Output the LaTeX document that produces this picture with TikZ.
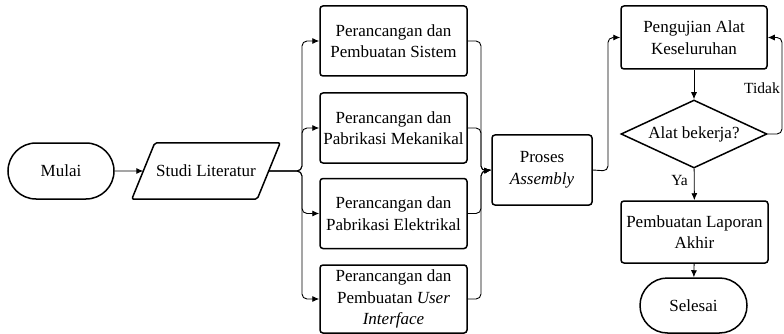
\documentclass[tikz,border=0pt]{standalone}
\usepackage{fontspec}
\setmainfont{Liberation Serif}
\usetikzlibrary{shapes.geometric,shapes.misc,arrows.meta,calc}
\begin{document}
\begin{tikzpicture}[x=1pt,y=-1pt,
  txt/.style={font=\fontsize{17}{21.5}\selectfont, align=center, inner sep=1pt},
  box/.style={txt, draw, line width=1.5pt, rounded corners=3pt, minimum width=147pt, minimum height=70pt},
  term/.style={txt, draw, line width=1.5pt, rounded rectangle, minimum width=108pt, minimum height=56pt},
  io/.style={txt, minimum width=125pt, minimum height=56pt},
  decision/.style={txt, draw, line width=1.5pt, diamond, aspect=2.15, minimum width=146pt, minimum height=68pt, inner sep=0pt},
  conn/.style={line width=0.9pt, rounded corners=5pt},
  arr/.style={conn, -{Latex[length=7pt,width=6pt]}},
  lbl/.style={font=\fontsize{15.5}{18}\selectfont, inner sep=1pt}
]
\useasboundingbox (0,0) rectangle (784,334);

\node[term] (mulai) at (61,171) {Mulai};
\node[io] (studi) at (206,171) {Studi Literatur};
\draw[line width=1.5pt, rounded corners=2pt]
  ($(studi.south west)+(-11.5,0)$) -- ($(studi.north west)+(11.5,0)$) --
  ($(studi.north east)+(11.5,0)$) -- ($(studi.south east)+(-11.5,0)$) -- cycle;

\node[box] (b1) at (393.5,41) {Perancangan dan\\Pembuatan Sistem};
\node[box] (b2) at (393.5,128) {Perancangan dan\\Pabrikasi Mekanikal};
\node[box] (b3) at (393.5,213.5) {Perancangan dan\\Pabrikasi Elektrikal};
\node[box, minimum height=68pt] (b4) at (393.5,299) {Perancangan dan\\Pembuatan \textit{User}\\\textit{Interface}};

\node[box, minimum width=100pt] (proses) at (542,170) {Proses\\\textit{Assembly}};

\node[box, minimum width=146pt, minimum height=63pt] (uji) at (694,37.5) {Pengujian Alat\\Keseluruhan};
\node[decision] (dia) at (694,134) {Alat bekerja?};
\node[box, minimum width=147pt, minimum height=62pt] (lap) at (694.5,232) {Pembuatan Laporan\\Akhir};
\node[term, minimum width=109pt, minimum height=55pt] (sel) at (693.5,305.5) {Selesai};

\coordinate (split) at (302,171);
\coordinate (merge) at (481,171);
\coordinate (up) at (608,171);
\coordinate (loop) at (782,134);

\draw[arr] (mulai) -- (studi);
\foreach \b in {b1,b2,b3,b4} {
  \draw[arr] (studi.east) -- (split) |- (\b.west);
  \draw[arr] (\b.east) -| (merge) -- (proses.west);
}
\draw[arr] (proses.east) -- (up) |- (uji.west);
\draw[arr] (uji) -- (dia);
\draw[arr] (dia.east) -- (loop) |- (uji.east);
\draw[arr] (dia) -- (lap);
\draw[arr] (lap) -- (sel);

\node[lbl, anchor=east] at (781,88) {Tidak};
\node[lbl, anchor=east] at (689,181) {Ya};
\end{tikzpicture}
\end{document}
